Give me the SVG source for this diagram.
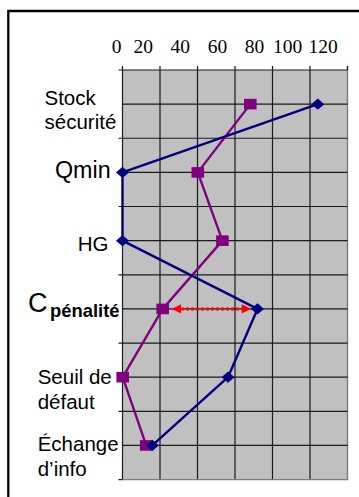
<svg xmlns="http://www.w3.org/2000/svg" width="359" height="497" viewBox="0 0 359 497">
<style>
.lbl{font-family:"Liberation Sans",Arial,sans-serif;font-size:20.5px;fill:#000}
.num{font-family:"Liberation Serif","Times New Roman",serif;font-size:19.5px;fill:#000;text-anchor:middle}
.grid{stroke:#1a1a1a;stroke-width:1.2;fill:none}
.blue{stroke:#000080;stroke-width:2.4;fill:none;stroke-linejoin:round}
.purp{stroke:#800080;stroke-width:2.4;fill:none;stroke-linejoin:round}
</style>
<defs>
<rect id="sq" x="-6.3" y="-5.3" width="12.6" height="10.6" fill="#800080"/>
<polygon id="dm" points="-6.5,0 0,-5.6 6.5,0 0,5.6" fill="#000080"/>
<marker id="ah" viewBox="0 0 10 10" refX="0" refY="5" markerWidth="10" markerHeight="9.4" markerUnits="userSpaceOnUse" orient="auto-start-reverse">
<path d="M0,0 L10,5 L0,10 z" fill="#ff0000"/>
</marker>
</defs>
<rect width="359" height="497" fill="#fff"/>
<path d="M8.3,497 V11 H359" fill="none" stroke="#000" stroke-width="2.3"/>
<g id="axis-numbers">
<text class="num" x="116.7" y="53">0</text>
<text class="num" x="143.3" y="53">20</text>
<text class="num" x="180.3" y="53">40</text>
<text class="num" x="217.5" y="53">60</text>
<text class="num" x="254.5" y="53">80</text>
<text class="num" x="287.5" y="53">100</text>
<text class="num" x="323.2" y="53">120</text>
</g>
<g id="plot">
<rect x="122.5" y="70" width="225" height="409.6" fill="#c0c0c0"/>
<path class="grid" d="M122.5,66 V479.6 M160,66 V479.6 M197.5,66 V479.6 M235,66 V479.6 M272.5,66 V479.6 M310,66 V479.6"/>
<path d="M347.5,66 V479.6 H122.5" fill="none" stroke="#7a7a7a" stroke-width="1.4"/>
<path class="grid" d="M118.5,70 H347.5 M122.5,104.13 H347.5 M118.5,138.26 H347.5 M122.5,172.39 H347.5 M118.5,206.52 H347.5 M122.5,240.65 H347.5 M118.5,274.78 H347.5 M122.5,308.91 H347.5 M118.5,343.04 H347.5 M122.5,377.17 H347.5 M118.5,411.3 H347.5 M122.5,445.43 H347.5 M118.5,479.56 H122.5"/>
<path d="M347.5,66 V70" class="grid"/>
</g>
<g id="connectors">
<polyline class="purp" points="250.3,104.13 197.8,172.39 222.4,240.65 162.7,308.91 122.7,377.17 146.2,445.43"/>
<polyline class="blue" points="317.8,104.13 122.5,172.39 122.5,240.65 257.5,308.91 228,377.17 152.3,445.43"/>
<line x1="181" y1="308.91" x2="241.7" y2="308.91" stroke="#ff0000" stroke-width="3" stroke-dasharray="3,2" marker-start="url(#ah)" marker-end="url(#ah)"/>
</g>
<g id="series-purple">
<use href="#sq" x="250.3" y="104.13"/>
<use href="#sq" x="197.8" y="172.39"/>
<use href="#sq" x="222.4" y="240.65"/>
<use href="#sq" x="162.7" y="308.91"/>
<use href="#sq" x="122.7" y="377.17"/>
<use href="#sq" x="146.2" y="445.43"/>
</g>
<g id="series-blue">
<use href="#dm" x="317.8" y="104.13"/>
<use href="#dm" x="122.5" y="172.39"/>
<use href="#dm" x="122.5" y="240.65"/>
<use href="#dm" x="257.5" y="308.91"/>
<use href="#dm" x="228" y="377.17"/>
<use href="#dm" x="152.3" y="445.43"/>
</g>
<g id="label-stock">
<text class="lbl" x="44.5" y="104.6">Stock</text>
<text class="lbl" x="44.5" y="128.6">sécurité</text>
</g>
<g id="label-qmin">
<text class="lbl" x="55" y="177.8" style="font-size:23.3px">Qmin</text>
</g>
<g id="label-hg">
<text class="lbl" x="77.7" y="250.6">HG</text>
</g>
<g id="label-cpenalite">
<text class="lbl" x="28" y="312" style="font-size:27px">C</text>
<text class="lbl" x="50" y="317.3" style="font-size:18.4px;font-weight:bold">pénalité</text>
</g>
<g id="label-seuil">
<text class="lbl" x="37.7" y="384.3">Seuil de</text>
<text class="lbl" x="37.7" y="409.3">défaut</text>
</g>
<g id="label-echange">
<text class="lbl" x="37.7" y="451">Échange</text>
<text class="lbl" x="37.7" y="476">d’info</text>
</g>
</svg>
